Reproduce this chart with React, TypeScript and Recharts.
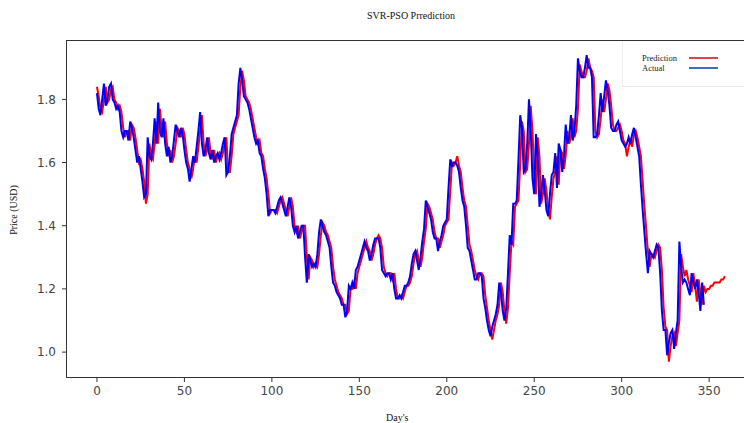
import { Line, LineChart, XAxis, YAxis } from 'recharts'

// Actual price, days 0..347
const actual = [
  1.82, 1.77, 1.75, 1.8, 1.85, 1.78, 1.8, 1.84, 1.85, 1.8,
  1.79, 1.77, 1.78, 1.76, 1.7, 1.68, 1.7, 1.7, 1.67, 1.73,
  1.71, 1.68, 1.64, 1.6, 1.62, 1.58, 1.54, 1.49, 1.5, 1.68,
  1.62, 1.61, 1.66, 1.74, 1.66, 1.79, 1.7, 1.68, 1.74, 1.66,
  1.62, 1.65, 1.6, 1.62, 1.67, 1.72, 1.7, 1.68, 1.71, 1.69,
  1.64, 1.6, 1.58, 1.54, 1.58, 1.62, 1.6, 1.65, 1.7, 1.76,
  1.66, 1.62, 1.64, 1.68, 1.63, 1.61, 1.64, 1.6, 1.62, 1.63,
  1.61, 1.63, 1.66, 1.68, 1.56, 1.57, 1.62, 1.69, 1.71, 1.73,
  1.75, 1.85, 1.9, 1.86, 1.81, 1.8, 1.79, 1.77, 1.74, 1.71,
  1.68, 1.66, 1.67, 1.63, 1.62, 1.58, 1.55, 1.5, 1.43, 1.45,
  1.45, 1.45, 1.44, 1.46, 1.48, 1.49, 1.47, 1.45, 1.43, 1.46,
  1.49, 1.46, 1.4, 1.38, 1.4, 1.36, 1.38, 1.4, 1.4, 1.3,
  1.22, 1.31, 1.29, 1.27, 1.28, 1.27, 1.31, 1.38, 1.42, 1.4,
  1.38, 1.37, 1.35, 1.33, 1.27, 1.22, 1.21, 1.19, 1.18, 1.17,
  1.15, 1.15, 1.11, 1.13, 1.21, 1.2, 1.22, 1.2, 1.26, 1.27,
  1.29, 1.31, 1.33, 1.35, 1.33, 1.32, 1.29, 1.31, 1.34, 1.36,
  1.36, 1.36, 1.33, 1.26, 1.25, 1.24, 1.25, 1.25, 1.23, 1.25,
  1.2, 1.17, 1.17, 1.18, 1.17, 1.19, 1.21, 1.21, 1.22, 1.24,
  1.28, 1.31, 1.32, 1.29, 1.26, 1.3, 1.35, 1.39, 1.48, 1.46,
  1.44, 1.42, 1.38, 1.36, 1.36, 1.32, 1.35, 1.37, 1.4, 1.41,
  1.42, 1.52, 1.61, 1.59, 1.6, 1.6, 1.59, 1.57, 1.52, 1.48,
  1.46, 1.4, 1.33, 1.32, 1.29, 1.26, 1.23, 1.23, 1.25, 1.25,
  1.24, 1.17, 1.14, 1.1, 1.07, 1.05, 1.08, 1.1, 1.12, 1.15,
  1.22, 1.19, 1.13, 1.1, 1.14, 1.25, 1.37, 1.34, 1.47, 1.47,
  1.48, 1.61, 1.75, 1.71, 1.57, 1.58, 1.66, 1.8, 1.7, 1.55,
  1.5, 1.69, 1.62, 1.46, 1.5, 1.56, 1.51, 1.45, 1.43, 1.5,
  1.56, 1.57, 1.63, 1.52, 1.66, 1.64, 1.57, 1.62, 1.72, 1.66,
  1.68, 1.75, 1.67, 1.7, 1.78, 1.93, 1.89, 1.87, 1.87, 1.9,
  1.94, 1.9, 1.9, 1.87, 1.68, 1.68, 1.69, 1.75, 1.82, 1.76,
  1.81, 1.86, 1.83, 1.78, 1.71, 1.7, 1.7, 1.72, 1.73, 1.7,
  1.67, 1.66, 1.65, 1.66, 1.68, 1.66, 1.69, 1.71, 1.68, 1.65,
  1.62, 1.53, 1.45, 1.38, 1.31, 1.25, 1.32, 1.31, 1.3, 1.32,
  1.34, 1.33, 1.25, 1.13, 1.07, 1.07, 0.99, 1.03, 1.06, 1.07,
  1.01, 1.06, 1.1, 1.35, 1.27, 1.22, 1.23, 1.22, 1.2, 1.18,
  1.25, 1.22, 1.2, 1.23, 1.19, 1.13, 1.22, 1.15,
]

// SVR-PSO prediction, days 0..359
const prediction = [
  1.84, 1.81, 1.77, 1.76, 1.8, 1.84, 1.79, 1.8, 1.83, 1.84,
  1.8, 1.79, 1.77, 1.78, 1.76, 1.71, 1.68, 1.7, 1.7, 1.67,
  1.72, 1.71, 1.68, 1.64, 1.6, 1.61, 1.58, 1.54, 1.47, 1.5,
  1.66, 1.62, 1.61, 1.66, 1.73, 1.66, 1.77, 1.7, 1.68, 1.73,
  1.66, 1.62, 1.64, 1.6, 1.62, 1.66, 1.71, 1.7, 1.68, 1.71,
  1.69, 1.64, 1.6, 1.58, 1.55, 1.58, 1.62, 1.6, 1.65, 1.7,
  1.75, 1.66, 1.62, 1.64, 1.68, 1.63, 1.61, 1.64, 1.6, 1.62,
  1.63, 1.61, 1.63, 1.66, 1.68, 1.57, 1.57, 1.62, 1.69, 1.71,
  1.73, 1.75, 1.84, 1.89, 1.86, 1.81, 1.8, 1.79, 1.77, 1.74,
  1.71, 1.68, 1.66, 1.67, 1.63, 1.62, 1.58, 1.55, 1.5, 1.44,
  1.45, 1.45, 1.45, 1.44, 1.46, 1.48, 1.49, 1.47, 1.45, 1.43,
  1.46, 1.49, 1.46, 1.4, 1.38, 1.4, 1.36, 1.38, 1.4, 1.4,
  1.3, 1.23, 1.3, 1.29, 1.27, 1.28, 1.27, 1.31, 1.37, 1.41,
  1.4, 1.38, 1.37, 1.35, 1.33, 1.27, 1.23, 1.21, 1.19, 1.18,
  1.17, 1.15, 1.15, 1.12, 1.13, 1.2, 1.2, 1.22, 1.2, 1.25,
  1.27, 1.29, 1.31, 1.33, 1.35, 1.33, 1.32, 1.29, 1.31, 1.34,
  1.36, 1.37, 1.36, 1.33, 1.27, 1.25, 1.24, 1.25, 1.25, 1.23,
  1.25, 1.2, 1.17, 1.17, 1.18, 1.17, 1.19, 1.21, 1.21, 1.22,
  1.24, 1.28, 1.31, 1.32, 1.29, 1.27, 1.3, 1.35, 1.39, 1.47,
  1.46, 1.44, 1.42, 1.38, 1.36, 1.36, 1.33, 1.35, 1.37, 1.4,
  1.41, 1.42, 1.51, 1.6, 1.59, 1.6, 1.62, 1.59, 1.57, 1.52,
  1.48, 1.46, 1.4, 1.34, 1.32, 1.29, 1.26, 1.24, 1.23, 1.25,
  1.25, 1.24, 1.18, 1.14, 1.1, 1.07, 1.04, 1.07, 1.1, 1.12,
  1.15, 1.22, 1.19, 1.13, 1.09, 1.14, 1.25, 1.35, 1.34, 1.46,
  1.47, 1.48, 1.6, 1.73, 1.7, 1.57, 1.58, 1.66, 1.78, 1.7,
  1.56, 1.5, 1.68, 1.62, 1.47, 1.5, 1.55, 1.51, 1.45, 1.42,
  1.49, 1.55, 1.57, 1.62, 1.53, 1.64, 1.63, 1.58, 1.62, 1.7,
  1.66, 1.68, 1.74, 1.68, 1.7, 1.77, 1.91, 1.89, 1.87, 1.87,
  1.89, 1.93, 1.9, 1.89, 1.87, 1.7, 1.68, 1.69, 1.74, 1.8,
  1.76, 1.8, 1.85, 1.83, 1.78, 1.72, 1.7, 1.7, 1.71, 1.72,
  1.7, 1.67, 1.66, 1.62, 1.65, 1.67, 1.65, 1.69, 1.7, 1.68,
  1.65, 1.62, 1.54, 1.46, 1.39, 1.32, 1.27, 1.31, 1.31, 1.3,
  1.32, 1.34, 1.33, 1.26, 1.14, 1.08, 1.07, 0.97, 1.02, 1.05,
  1.06, 1.02, 1.06, 1.1, 1.31, 1.27, 1.24, 1.26, 1.23, 1.21,
  1.19, 1.25, 1.21, 1.16, 1.23, 1.19, 1.15, 1.21, 1.19, 1.2,
  1.2, 1.21, 1.21, 1.22, 1.22, 1.22, 1.22, 1.23, 1.23, 1.24,
]

const dayTicks = [0, 50, 100, 150, 200, 250, 300, 350]
const priceTicks = [1.0, 1.2, 1.4, 1.6, 1.8]

const rows = prediction.map((p, i) => ({
  day: i,
  prediction: p,
  actual: i < actual.length ? actual[i] : null,
}))

const serif = '"Liberation Serif", "Times New Roman", serif'
const tickStyle = { fill: '#444', fontSize: 12, fontFamily: '"DejaVu Sans", sans-serif' }

function LegendBox() {
  const items = [
    { label: 'Prediction', color: '#d24a4a' },
    { label: 'Actual', color: '#3d6fc4' },
  ]
  return (
    <div
      style={{
        position: 'absolute',
        left: 622,
        top: 41,
        width: 150,
        height: 46,
        background: '#fff',
        borderLeft: '1px solid #eee',
        borderBottom: '1px solid #e6e6e6',
        fontFamily: serif,
        fontSize: 8.5,
        color: '#222',
        paddingTop: 12,
        boxSizing: 'border-box',
      }}
    >
      {items.map((it) => (
        <div key={it.label} style={{ display: 'flex', alignItems: 'center', height: 10 }}>
          <span style={{ marginLeft: 19, width: 47 }}>{it.label}</span>
          <span style={{ width: 29, height: 2, background: it.color }} />
        </div>
      ))}
    </div>
  )
}

export default function App() {
  return (
    <div
      style={{
        position: 'absolute',
        left: 0,
        top: 0,
        width: 744,
        height: 423,
        overflow: 'hidden',
        background: '#fff',
      }}
    >
      <div
        style={{
          position: 'absolute',
          top: 10,
          left: 0,
          width: 822,
          textAlign: 'center',
          fontFamily: serif,
          fontSize: 10,
          color: '#111',
        }}
      >
        SVR-PSO Prrediction
      </div>
      <div
        style={{
          position: 'absolute',
          left: 13,
          top: 210,
          transform: 'translate(-50%, -50%) rotate(-90deg)',
          fontFamily: serif,
          fontSize: 10,
          color: '#111',
          whiteSpace: 'nowrap',
        }}
      >
        Price (USD)
      </div>
      <div
        style={{
          position: 'absolute',
          left: 386,
          top: 412,
          fontFamily: serif,
          fontSize: 10,
          color: '#111',
        }}
      >
        Day's
      </div>
      <div style={{ position: 'absolute', left: 0, top: 0 }}>
        <LineChart
          width={775}
          height={423}
          data={rows}
          margin={{ top: 40, right: 19, bottom: 0, left: 0 }}
        >
          <XAxis
            dataKey="day"
            type="number"
            domain={[-17.7, 376.8]}
            allowDataOverflow
            ticks={dayTicks}
            height={45}
            axisLine={false}
            tickLine={{ stroke: '#333' }}
            tickSize={4}
            tickMargin={4}
            tick={tickStyle}
          />
          <YAxis
            type="number"
            domain={[0.918, 1.988]}
            allowDataOverflow
            ticks={priceTicks}
            tickFormatter={(v: number) => v.toFixed(1)}
            width={66}
            axisLine={false}
            tickLine={{ stroke: '#333' }}
            tickSize={4}
            tickMargin={6}
            tick={tickStyle}
          />
          <Line
            type="linear"
            dataKey="prediction"
            stroke="#ff0000"
            strokeWidth={2}
            dot={false}
            isAnimationActive={false}
          />
          <Line
            type="linear"
            dataKey="actual"
            stroke="#0000ff"
            strokeWidth={2}
            dot={false}
            connectNulls={false}
            isAnimationActive={false}
          />
        </LineChart>
      </div>
      <div
        style={{
          position: 'absolute',
          left: 66,
          top: 40,
          width: 690,
          height: 338,
          border: '1.5px solid #333',
          boxSizing: 'border-box',
          pointerEvents: 'none',
        }}
      />
      <LegendBox />
    </div>
  )
}
